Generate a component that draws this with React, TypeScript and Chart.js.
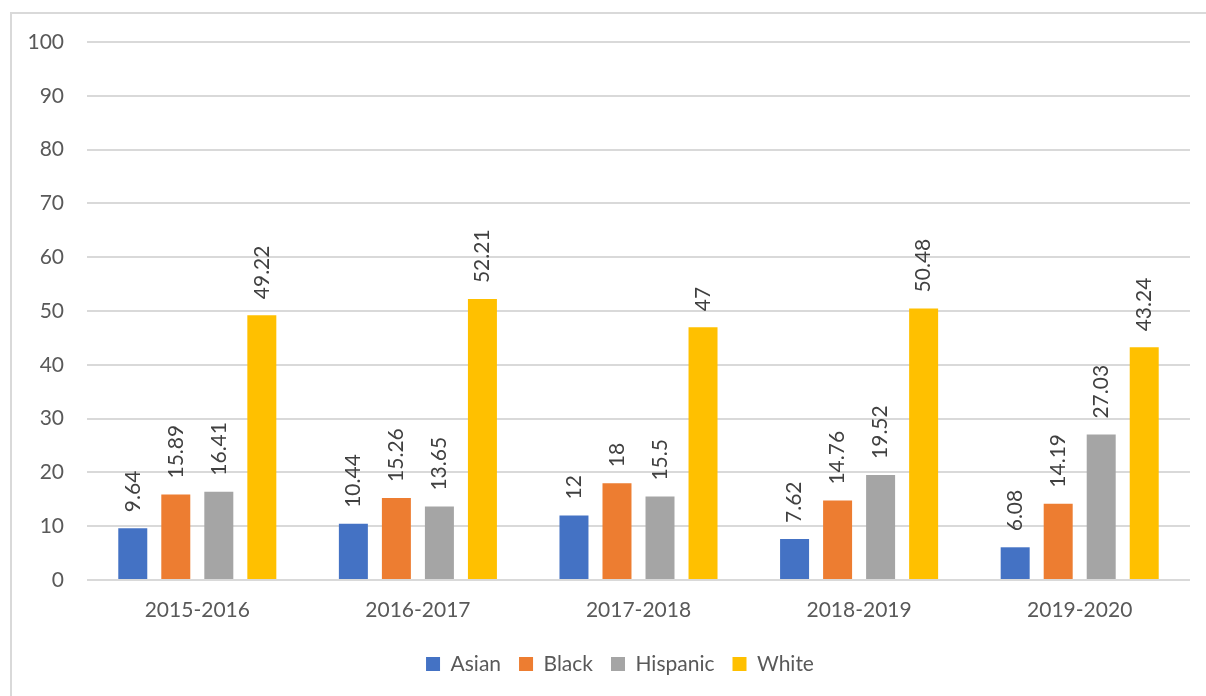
import React, { useEffect, useRef } from "react";
import { Chart, registerables } from "chart.js";

Chart.register(...registerables);

const categories = ["2015-2016", "2016-2017", "2017-2018", "2018-2019", "2019-2020"];
const asian = [9.64, 10.44, 12, 7.62, 6.08];
const black = [15.89, 15.26, 18, 14.76, 14.19];
const hispanic = [16.41, 13.65, 15.5, 19.52, 27.03];
const white = [49.22, 52.21, 47, 50.48, 43.24];
const seriesNames = ["Asian", "Black", "Hispanic", "White"];
const seriesColors = ["#4472C4", "#ED7D31", "#A5A5A5", "#FFC000"];

const FONT = "Lato, 'Open Sans', sans-serif";
const TEXT = "#595959";

const framePlugin = {
  id: "frame",
  beforeDraw(chart: any) {
    const ctx = chart.ctx;
    ctx.save();
    ctx.fillStyle = "#ffffff";
    ctx.fillRect(0, 0, chart.width, chart.height);
    ctx.strokeStyle = "#d9d9d9";
    ctx.lineWidth = 2;
    ctx.beginPath();
    ctx.moveTo(11, chart.height + 5);
    ctx.lineTo(11, 13);
    ctx.lineTo(chart.width + 5, 13);
    ctx.stroke();
    ctx.restore();
  },
};

const legendShift = {
  id: "legendShift",
  afterLayout(chart: any) {
    if (chart.legend) {
      chart.legend.left += 50;
    }
  },
};

const labelPlugin = {
  id: "barLabels",
  afterDatasetsDraw(chart: any) {
    const ctx = chart.ctx;
    ctx.save();
    ctx.fillStyle = "#404040";
    ctx.font = `21px ${FONT}`;
    ctx.textAlign = "left";
    ctx.textBaseline = "middle";
    chart.data.datasets.forEach((ds: any, i: number) => {
      const meta = chart.getDatasetMeta(i);
      meta.data.forEach((el: any, j: number) => {
        ctx.save();
        ctx.translate(el.x, el.y - 16);
        ctx.rotate(-Math.PI / 2);
        ctx.fillText(String(ds.data[j]), 0, 0);
        ctx.restore();
      });
    });
    ctx.restore();
  },
};

export default function App() {
  const ref = useRef<HTMLCanvasElement | null>(null);
  useEffect(() => {
    if (!ref.current) return;
    const data = [asian, black, hispanic, white];
    const chart = new Chart(ref.current, {
      type: "bar",
      data: {
        labels: categories,
        datasets: seriesNames.map((name, i) => ({
          label: name,
          data: data[i],
          backgroundColor: seriesColors[i],
          borderWidth: 0,
          categoryPercentage: 0.78,
          barPercentage: 0.674,
        })),
      },
      options: {
        animation: false,
        responsive: false,
        devicePixelRatio: 1,
        layout: { padding: { left: 0, top: 42, right: 16, bottom: 11.5 } },
        plugins: {
          legend: {
            position: "bottom",
            labels: {
              boxWidth: 14,
              boxHeight: 14,
              padding: 18,
              color: TEXT,
              font: { family: FONT, size: 21 },
            },
          },
          tooltip: { enabled: false },
        },
        scales: {
          x: {
            grid: { display: false, drawTicks: false },
            border: { display: false },
            ticks: { color: TEXT, font: { family: FONT, size: 21 }, padding: 18 },
            afterFit(scale: any) {
              scale.height = 55.5;
            },
          },
          y: {
            min: 0,
            max: 100,
            ticks: { stepSize: 10, color: TEXT, font: { family: FONT, size: 21 }, padding: 23 },
            grid: { color: "#d9d9d9", lineWidth: 2, drawTicks: false },
            border: { display: false },
            afterFit(scale: any) {
              scale.width = 87;
            },
          },
        },
      },
      plugins: [framePlugin, legendShift, labelPlugin],
    } as any);
    return () => chart.destroy();
  }, []);
  return (
    <div style={{ position: "fixed", left: 0, top: 0, width: 1206, height: 696, background: "#fff" }}>
      <canvas ref={ref} width={1206} height={696} style={{ display: "block" }} />
    </div>
  );
}
